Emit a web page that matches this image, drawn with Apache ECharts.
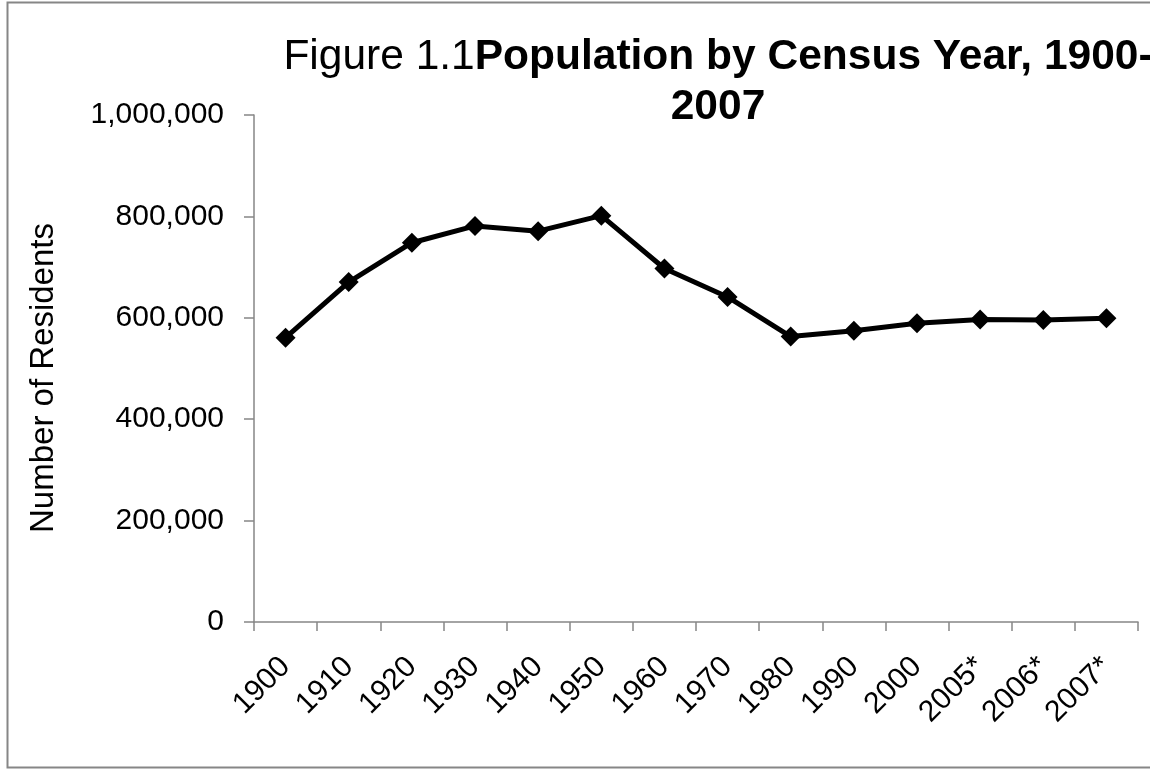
<!DOCTYPE html>
<html><head><meta charset="utf-8">
<script src="https://cdn.jsdelivr.net/npm/echarts@6/dist/echarts.min.js"></script>
<style>html,body{margin:0;padding:0;background:#fff}#c{width:1150px;height:771px}</style>
</head><body><div id="c"></div>
<script>
const categories = ['1900','1910','1920','1930','1940','1950','1960','1970','1980','1990','2000','2005*','2006*','2007*'];
const residents = [560892,670585,748060,781188,770816,801444,697197,641071,562994,574283,589141,596763,595500,599351];
const yTicks = {min:0, max:1000000, interval:200000};
const yAxisTitle = 'Number of Residents';

const chart = echarts.init(document.getElementById('c'));
const F = '"Liberation Sans", Arial, sans-serif';
chart.setOption({
  animation:false,
  backgroundColor:'#fff',
  graphic:[
    {type:'rect', shape:{x:7.5,y:2.5,width:1160,height:765}, style:{fill:null, stroke:'#868686', lineWidth:2}, silent:true},
    {type:'text', x:44, y:378, rotation:Math.PI/2, silent:true,
      style:{text:yAxisTitle, fontFamily:F, fontSize:33, fill:'#000', textAlign:'center', textVerticalAlign:'middle'}}
  ],
  title:{
    text:'{n|Figure 1.1}{b|Population by Census Year, 1900-}\n{b|2007}',
    left:713, top:27, textAlign:'center',
    textStyle:{fontFamily:F, rich:{
      n:{fontSize:42.5, fontFamily:F, color:'#000', fontWeight:'normal', lineHeight:50},
      b:{fontSize:42.5, fontFamily:F, color:'#000', fontWeight:'bold', lineHeight:50}
    }}
  },
  grid:{left:254, right:12, top:115, bottom:149, containLabel:false},
  xAxis:{type:'category', data:categories, boundaryGap:true,
    axisLine:{lineStyle:{color:'#868686', width:1.5}},
    axisTick:{show:true, length:9, lineStyle:{color:'#868686', width:1.5}},
    axisLabel:{rotate:45, fontFamily:F, fontSize:30, color:'#000', margin:40}
  },
  yAxis:{type:'value', min:yTicks.min, max:yTicks.max, interval:yTicks.interval,
    splitLine:{show:false},
    axisLine:{show:true, lineStyle:{color:'#868686', width:1.5}},
    axisTick:{show:true, length:10, lineStyle:{color:'#868686', width:1.5}},
    axisLabel:{fontFamily:F, fontSize:30, color:'#000', margin:30,
      formatter:v=>v.toLocaleString('en-US')}
  },
  series:[{type:'line', data:residents, symbol:'diamond', symbolSize:20,
    lineStyle:{color:'#000', width:5}, itemStyle:{color:'#000'}}]
});
</script></body></html>
